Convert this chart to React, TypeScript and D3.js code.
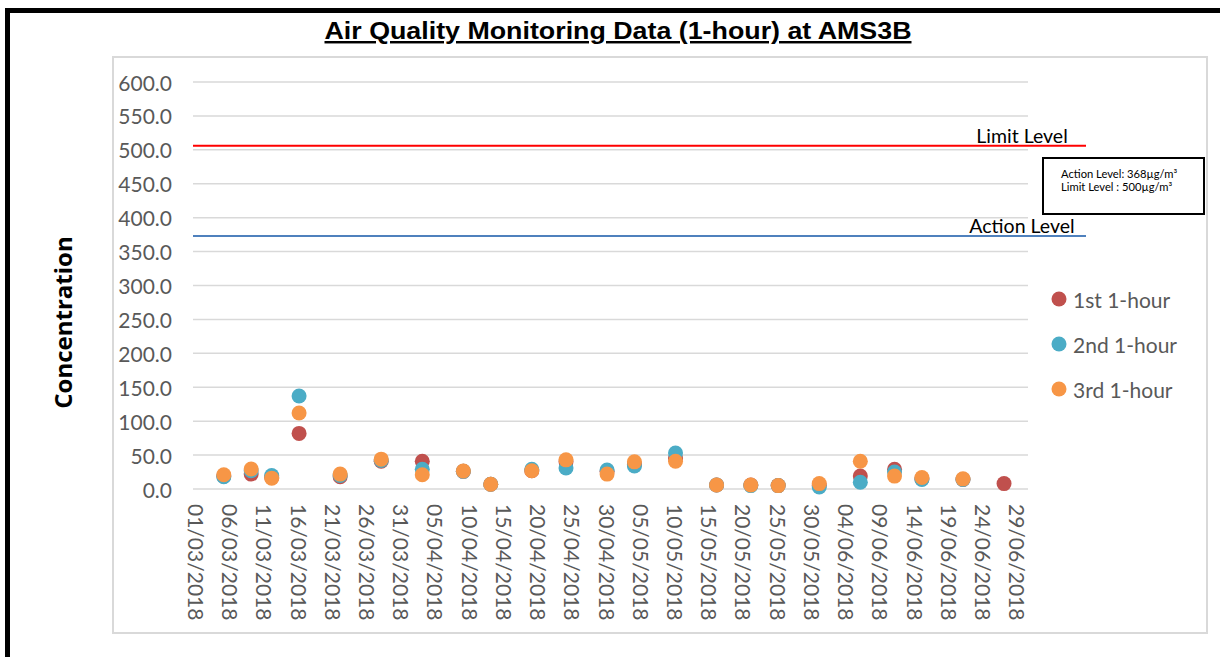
import * as d3 from "d3";

// sampling dates and 1-hour concentrations (µg/m³)
const sampleDates = [
  "05/03/2018", "09/03/2018", "12/03/2018", "16/03/2018", "22/03/2018", "28/03/2018",
  "03/04/2018", "09/04/2018", "13/04/2018", "19/04/2018", "24/04/2018", "30/04/2018",
  "04/05/2018", "10/05/2018", "16/05/2018", "21/05/2018", "25/05/2018", "31/05/2018",
  "06/06/2018", "11/06/2018", "15/06/2018", "21/06/2018", "27/06/2018",
];
const first1h: (number | null)[] = [19, 22, 17, 82, 18, 41, 41, 26, 7, 27, 40, 26, 36, 45, 6, 6, 5, 5, 19, 29, 15, 14, 8];
const second1h: (number | null)[] = [18, 27, 20, 137, 20, 42, 29, 26, 7, 29, 31, 28, 34, 53, 6, 5, 5, 3, 10, 25, 14, 14, null];
const third1h: (number | null)[] = [21, 29.5, 16, 112, 22, 44, 21, 26.5, 7, 27, 43, 22, 40, 41, 6, 6, 5, 8, 41, 19, 17, 15, null];

const seriesNames = ["1st 1-hour", "2nd 1-hour", "3rd 1-hour"];
const seriesColors = ["#C0504D", "#4BACC6", "#F79646"];

const xTickLabels = [
  "01/03/2018", "06/03/2018", "11/03/2018", "16/03/2018", "21/03/2018", "26/03/2018",
  "31/03/2018", "05/04/2018", "10/04/2018", "15/04/2018", "20/04/2018", "25/04/2018",
  "30/04/2018", "05/05/2018", "10/05/2018", "15/05/2018", "20/05/2018", "25/05/2018",
  "30/05/2018", "04/06/2018", "09/06/2018", "14/06/2018", "19/06/2018", "24/06/2018",
  "29/06/2018",
];

// reference lines as drawn on the chart
const levelNames = ["Limit Level", "Action Level"];
const levelValues = [506, 373];
const levelColors = ["#FF0000", "#4F81BD"];
const noteLines = ["Action Level: 368µg/m³", "Limit Level : 500µg/m³"];

const parse = d3.timeParse("%d/%m/%Y");
const font = "Lato, 'Open Sans', sans-serif";
const grey = "#595959";

export default function App() {
  const W = 1220;
  const H = 657;
  const plot = { left: 193, right: 1028, top: 82, bottom: 489 };

  const x = d3
    .scaleTime()
    .domain([new Date(2018, 1, 28, 12), new Date(2018, 5, 30, 12)])
    .range([plot.left, plot.right]);
  const y = d3.scaleLinear().domain([0, 600]).range([plot.bottom, plot.top]);
  const yTicks = y.ticks(12);
  const fmt = d3.format(".1f");

  const series = [first1h, second1h, third1h];

  return (
    <svg width={W} height={H} style={{ position: "absolute", left: 0, top: 0, background: "#fff" }}>
      {/* outer frame */}
      <rect x={0} y={0} width={W} height={H} fill="#fff" />
      <line x1={5} x2={W} y1={10.5} y2={10.5} stroke="#000" strokeWidth={5} />
      <line x1={7.5} x2={7.5} y1={8} y2={H} stroke="#000" strokeWidth={5} />

      <text
        x={618}
        y={39}
        textAnchor="middle"
        fontFamily="Arial, Liberation Sans, Helvetica, sans-serif"
        fontWeight="bold"
        fontSize={24.5}
        textLength={587}
        lengthAdjust="spacingAndGlyphs"
        textDecoration="underline"
      >
        Air Quality Monitoring Data (1-hour) at AMS3B
      </text>

      {/* chart area border */}
      <rect x={113} y={57} width={1094} height={576} fill="none" stroke="#d9d9d9" strokeWidth={2} />

      {/* gridlines + y labels */}
      {yTicks.map((t) => (
        <g key={`y-${t}`}>
          <line x1={plot.left} x2={plot.right} y1={y(t)} y2={y(t)} stroke="#d9d9d9" strokeWidth={1.5} />
          <text
            x={172}
            y={y(t)}
            textAnchor="end"
            dominantBaseline="central"
            fontFamily={font}
            fontSize={21}
            fill={grey}
          >
            {fmt(t)}
          </text>
        </g>
      ))}

      {/* x labels */}
      {xTickLabels.map((lab) => {
        const px = x(parse(lab) as Date);
        return (
          <text
            key={`x-${lab}`}
            transform={`translate(${px}, 504) rotate(90)`}
            textAnchor="start"
            dominantBaseline="central"
            fontFamily={font}
            fontSize={21}
            fill={grey}
          >
            {lab}
          </text>
        );
      })}

      <text
        transform={`translate(62, ${(plot.top + plot.bottom) / 2 + 37}) rotate(-90)`}
        textAnchor="middle"
        dominantBaseline="central"
        fontFamily="'Open Sans', Lato, sans-serif"
        fontWeight="bold"
        fontSize={24}
        fill="#000"
      >
        Concentration
      </text>

      {/* level lines */}
      {levelValues.map((v, i) => (
        <g key={`lvl-${i}`}>
          <line
            x1={plot.left}
            x2={plot.right + 58}
            y1={y(v)}
            y2={y(v)}
            stroke={levelColors[i]}
            strokeWidth={1.8}
          />
          <text
            x={plot.right - 6}
            y={y(v) - 3}
            textAnchor="middle"
            fontFamily={font}
            fontSize={19.5}
            fill="#000"
          >
            {levelNames[i]}
          </text>
        </g>
      ))}

      {/* points */}
      {series.map((vals, si) => (
        <g key={`s-${si}`}>
          {vals.map((v, i) =>
            v == null ? null : (
              <circle
                key={`p-${si}-${i}`}
                cx={x(parse(sampleDates[i]) as Date)}
                cy={y(v)}
                r={7.5}
                fill={seriesColors[si]}
              />
            )
          )}
        </g>
      ))}

      {/* note box */}
      <rect x={1043} y={158} width={161} height={56} fill="#fff" stroke="#000" strokeWidth={2} />
      {noteLines.map((l, i) => (
        <text key={`n-${i}`} x={1061} y={178 + i * 13} fontFamily={font} fontSize={11.2} fill="#000">
          {l}
        </text>
      ))}

      {/* legend */}
      {seriesNames.map((n, i) => (
        <g key={`leg-${i}`}>
          <circle cx={1059} cy={299 + i * 45} r={7.5} fill={seriesColors[i]} />
          <text
            x={1073}
            y={299 + i * 45}
            dominantBaseline="central"
            fontFamily={font}
            fontSize={21}
            fill={grey}
          >
            {n}
          </text>
        </g>
      ))}
    </svg>
  );
}
